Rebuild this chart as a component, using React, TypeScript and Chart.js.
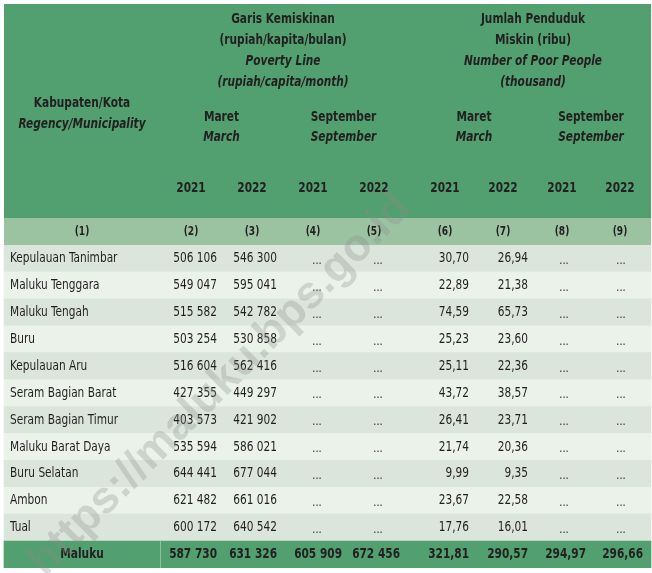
import React, { useEffect, useRef } from 'react';
import { Chart, registerables } from 'chart.js';

Chart.register(...registerables);

const regions = [
  'Kepulauan Tanimbar',
  'Maluku Tenggara',
  'Maluku Tengah',
  'Buru',
  'Kepulauan Aru',
  'Seram Bagian Barat',
  'Seram Bagian Timur',
  'Maluku Barat Daya',
  'Buru Selatan',
  'Ambon',
  'Tual',
];
const totalLabel = 'Maluku';

const povertyLineMar2021 = [506106, 549047, 515582, 503254, 516604, 427355, 403573, 535594, 644441, 621482, 600172];
const povertyLineMar2022 = [546300, 595041, 542782, 530858, 562416, 449297, 421902, 586021, 677044, 661016, 640542];
const poorMar2021 = [30.7, 22.89, 74.59, 25.23, 25.11, 43.72, 26.41, 21.74, 9.99, 23.67, 17.76];
const poorMar2022 = [26.94, 21.38, 65.73, 23.6, 22.36, 38.57, 23.71, 20.36, 9.35, 22.58, 16.01];

// Maluku totals: Mar 2021, Mar 2022, Sep 2021, Sep 2022
const povertyLineTotal = [587730, 631326, 605909, 672456];
const poorTotal = [321.81, 290.57, 294.97, 296.66];

const years = ['2021', '2022', '2021', '2022', '2021', '2022', '2021', '2022'];
const colNumbers = ['(1)', '(2)', '(3)', '(4)', '(5)', '(6)', '(7)', '(8)', '(9)'];

// layout
const W = 652;
const H = 573;
const TABLE_L = 4;
const TABLE_R = 651;
const GREEN = '#529f6f';
const SUB_GREEN = '#9bc3a1';
const ROW_DARK = '#dbe5db';
const ROW_LIGHT = '#eaf2ea';
const INK = '#231f20';
const FONT = "'DejaVu Sans Condensed', 'DejaVu Sans', sans-serif";
const SQUEEZE = 0.84; // the original face is narrower than DejaVu Condensed

const headCenters = [82, 191, 252, 313, 374, 445, 503, 562, 620];
const numRight = [217, 277, 342, 400, 469, 528, 586, 643];
const dotsCenter = [196, 256, 317, 378, 449, 508, 564, 621];

const fmtInt = (n: number) => String(n).replace(/\B(?=(\d{3})+(?!\d))/g, ' ');
const fmtDec = (n: number) => n.toFixed(2).replace('.', ',');

function txt(
  ctx: CanvasRenderingContext2D,
  s: string,
  x: number,
  y: number,
  opts: { bold?: boolean; italic?: boolean; size?: number; align?: CanvasTextAlign } = {}
) {
  const { bold = false, italic = false, size = 14, align = 'center' } = opts;
  ctx.save();
  ctx.font = `${italic ? 'italic ' : ''}${bold ? 'bold ' : ''}${size}px ${FONT}`;
  ctx.textAlign = align;
  ctx.textBaseline = 'middle';
  ctx.fillStyle = INK;
  ctx.translate(x, y);
  ctx.scale(SQUEEZE, 1);
  ctx.fillText(s, 0, 0);
  ctx.restore();
}

const tablePlugin = {
  id: 'tableCells',
  beforeDatasetsDraw(chart: any) {
    const ctx: CanvasRenderingContext2D = chart.ctx;
    const x = chart.scales.x;
    const l = x.getPixelForValue(TABLE_L);
    const w = x.getPixelForValue(TABLE_R) - l;
    ctx.save();
    ctx.fillStyle = GREEN;
    ctx.fillRect(l, 4, w, 214);
    ctx.fillStyle = SUB_GREEN;
    ctx.fillRect(l, 218, w, chart.chartArea.top - 218);
    ctx.restore();
  },
  afterDatasetsDraw(chart: any) {
    const ctx: CanvasRenderingContext2D = chart.ctx;
    const x = chart.scales.x;
    const y = chart.scales.y;
    const px = (v: number) => x.getPixelForValue(v);
    ctx.save();

    // header block
    const leftC = (headCenters[1] + headCenters[4]) / 2 + 0.5;
    const rightC = (headCenters[5] + headCenters[8]) / 2 + 0.5;
    txt(ctx, 'Garis Kemiskinan', px(leftC), 19, { bold: true });
    txt(ctx, '(rupiah/kapita/bulan)', px(leftC), 40, { bold: true });
    txt(ctx, 'Poverty Line', px(leftC), 61, { bold: true, italic: true });
    txt(ctx, '(rupiah/capita/month)', px(leftC), 82, { bold: true, italic: true });
    txt(ctx, 'Jumlah Penduduk', px(rightC), 19, { bold: true });
    txt(ctx, 'Miskin (ribu)', px(rightC), 40, { bold: true });
    txt(ctx, 'Number of Poor People', px(rightC), 61, { bold: true, italic: true });
    txt(ctx, '(thousand)', px(rightC), 82, { bold: true, italic: true });

    txt(ctx, 'Kabupaten/Kota', px(headCenters[0]), 103, { bold: true });
    txt(ctx, 'Regency/Municipality', px(headCenters[0]), 124, { bold: true, italic: true });

    const months: [string, string][] = [['Maret', 'March'], ['September', 'September']];
    for (let g = 0; g < 4; g++) {
      const c = (headCenters[1 + g * 2] + headCenters[2 + g * 2]) / 2;
      const [id, en] = months[g % 2];
      txt(ctx, id, px(c), 117, { bold: true });
      txt(ctx, en, px(c), 137, { bold: true, italic: true });
    }
    years.forEach((yr, i) => txt(ctx, yr, px(headCenters[i + 1]), 188, { bold: true }));
    colNumbers.forEach((n, i) => txt(ctx, n, px(headCenters[i]), 232, { bold: true, size: 12 }));

    // body rows
    regions.forEach((name, r) => {
      const cy = y.getPixelForValue(r);
      txt(ctx, name, px(10), cy, { align: 'left' });
      const cells: (string | null)[] = [
        fmtInt(povertyLineMar2021[r]),
        fmtInt(povertyLineMar2022[r]),
        null,
        null,
        fmtDec(poorMar2021[r]),
        fmtDec(poorMar2022[r]),
        null,
        null,
      ];
      cells.forEach((c, i) => {
        if (c === null) txt(ctx, '...', px(dotsCenter[i]), cy + 2, { size: 13 });
        else txt(ctx, c, px(numRight[i]), cy, { align: 'right' });
      });
    });

    // total row
    const tr = regions.length;
    const ty = y.getPixelForValue(tr);
    const half = Math.abs(y.getPixelForValue(1) - y.getPixelForValue(0)) / 2;
    ctx.strokeStyle = 'rgba(255,255,255,0.35)';
    ctx.lineWidth = 1;
    ctx.beginPath();
    ctx.moveTo(px(160.5), ty - half);
    ctx.lineTo(px(160.5), ty + half);
    ctx.stroke();
    txt(ctx, totalLabel, px(headCenters[0]), ty, { bold: true });
    const totals = [
      fmtInt(povertyLineTotal[0]),
      fmtInt(povertyLineTotal[1]),
      fmtInt(povertyLineTotal[2]),
      fmtInt(povertyLineTotal[3]),
      fmtDec(poorTotal[0]),
      fmtDec(poorTotal[1]),
      fmtDec(poorTotal[2]),
      fmtDec(poorTotal[3]),
    ];
    totals.forEach((t, i) => txt(ctx, t, px(numRight[i]), ty, { bold: true, align: 'right' }));
    ctx.restore();
  },
  afterDraw(chart: any) {
    const ctx: CanvasRenderingContext2D = chart.ctx;
    ctx.save();
    ctx.translate(220, 385);
    ctx.rotate(-Math.PI / 4);
    ctx.font = `bold 45px 'Liberation Sans', 'DejaVu Sans', sans-serif`;
    ctx.textAlign = 'center';
    ctx.textBaseline = 'middle';
    ctx.fillStyle = 'rgba(140,140,140,0.3)';
    ctx.fillText('https://maluku.bps.go.id', 0, 0);
    ctx.restore();
  },
};

export default function App() {
  const canvasRef = useRef<HTMLCanvasElement>(null);

  useEffect(() => {
    document.body.style.margin = '0';
    if (!canvasRef.current) return;
    const rows = [...regions, totalLabel];
    const chart = new Chart(canvasRef.current, {
      type: 'bar',
      data: {
        labels: rows,
        datasets: [
          {
            data: rows.map(() => [TABLE_L, TABLE_R]) as any,
            backgroundColor: rows.map((_, i) => (i === rows.length - 1 ? GREEN : i % 2 === 0 ? ROW_DARK : ROW_LIGHT)),
            borderWidth: 0,
            categoryPercentage: 1,
            barPercentage: 1,
          },
        ],
      },
      options: {
        indexAxis: 'y',
        responsive: true,
        maintainAspectRatio: false,
        animation: false,
        events: [],
        layout: { padding: { top: 245, bottom: 5, left: 0, right: 0 } },
        plugins: { legend: { display: false }, tooltip: { enabled: false } },
        scales: {
          x: { type: 'linear', min: 0, max: W, display: false },
          y: { type: 'category', display: false, offset: true },
        },
      },
      plugins: [tablePlugin],
    });
    return () => chart.destroy();
  }, []);

  return (
    <div style={{ width: W, height: H, position: 'relative', background: '#fff' }}>
      <canvas ref={canvasRef} />
    </div>
  );
}
